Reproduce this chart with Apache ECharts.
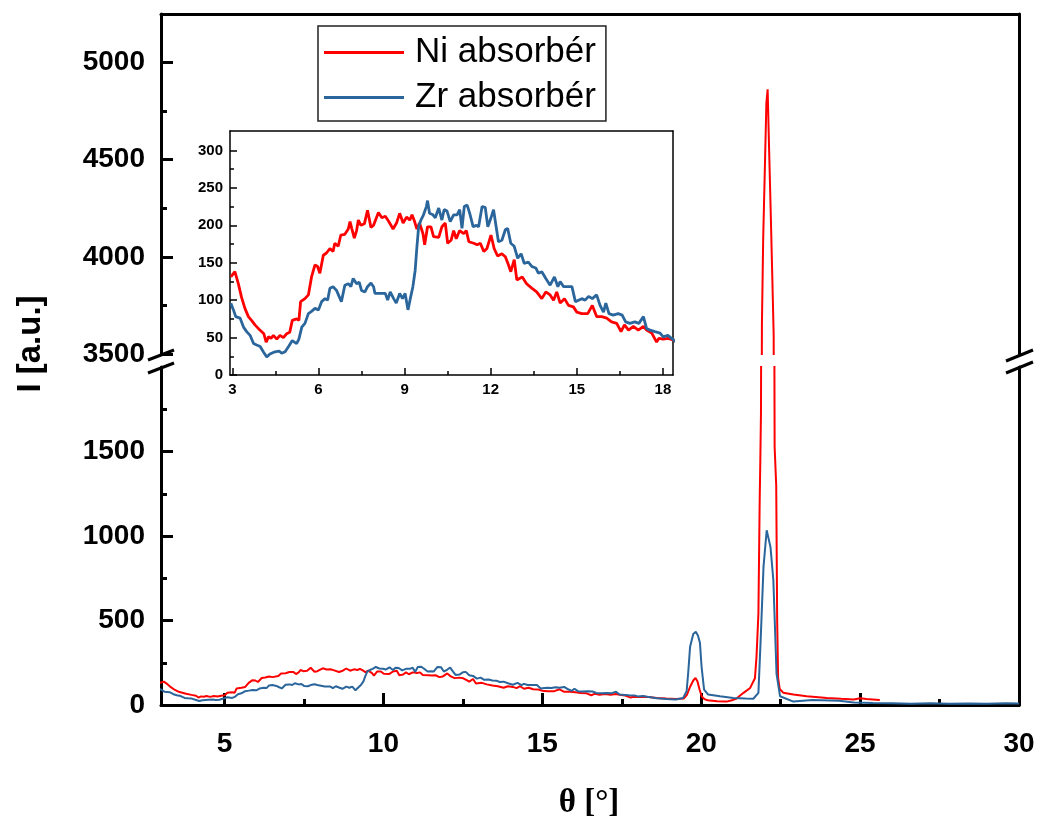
<!DOCTYPE html>
<html>
<head>
<meta charset="utf-8">
<script src="https://cdn.jsdelivr.net/npm/echarts@6/dist/echarts.min.js"></script>
<style>
  html, body { margin: 0; padding: 0; background: #fff; }
  #show_picture { width: 1038px; height: 820px; }
</style>
</head>
<body>
<div id="show_picture"></div>
<script>
// Ni absorber (red) - theta [deg], intensity [a.u.]
const niTheta = [2.95, 3.09, 3.21, 3.32, 3.44, 3.56, 3.67, 3.79, 3.96, 4.02, 4.10, 4.18, 4.26, 4.35, 4.43, 4.55, 4.66, 4.78, 4.89, 5.00,
    5.09, 5.24, 5.32, 5.38, 5.53, 5.65, 5.76, 5.88, 5.97, 6.05, 6.17, 6.28, 6.40, 6.51, 6.57, 6.69, 6.78, 6.92, 7.04, 7.10,
    7.16, 7.25, 7.33, 7.39, 7.48, 7.60, 7.71, 7.83, 7.92, 8.09, 8.21, 8.33, 8.45, 8.60, 8.72, 8.83, 8.95, 9.07, 9.18, 9.26,
    9.35, 9.43, 9.52, 9.64, 9.70, 9.80, 9.92, 10.01, 10.19, 10.30, 10.42, 10.50, 10.62, 10.71, 10.80, 10.92, 11.06, 11.15, 11.24, 11.41,
    11.53, 11.64, 11.76, 11.87, 12.01, 12.12, 12.24, 12.39, 12.51, 12.62, 12.70, 12.82, 12.91, 13.10, 13.25, 13.43, 13.60, 13.78, 13.92, 14.07,
    14.19, 14.30, 14.42, 14.57, 14.71, 14.88, 15.00, 15.17, 15.38, 15.54, 15.69, 15.87, 16.04, 16.21, 16.39, 16.54, 16.66, 16.80, 16.97, 17.14,
    17.32, 17.43, 17.61, 17.78, 17.86, 18.01, 18.18, 18.35, 18.6, 18.9, 19.2, 19.45, 19.55, 19.65, 19.75, 19.82, 19.88, 19.95, 20.02, 20.10,
    20.20, 20.50, 20.80, 21.00, 21.10, 21.33, 21.54, 21.69, 21.74, 21.80, 21.84, 21.86, 21.88, 21.91, 21.95, 22.00, 22.05, 22.09, 22.13, 22.18,
    22.23, 22.28, 22.31, 22.36, 22.39, 22.42, 22.47, 22.58, 22.90, 23.32, 23.60, 23.95, 24.40, 24.80, 25.00, 25.20, 25.40, 25.62];
const niI = [131, 138, 122, 104, 89, 78, 73, 67, 60, 62, 55, 44, 51, 49, 53, 48, 53, 50, 55, 57,
    73, 75, 73, 98, 102, 107, 131, 147, 145, 136, 160, 163, 169, 165, 176, 172, 187, 188, 195, 205,
    196, 183, 193, 207, 200, 202, 220, 197, 200, 217, 210, 212, 205, 195, 203, 216, 203, 211, 207, 214,
    205, 195, 203, 189, 174, 198, 198, 185, 184, 198, 203, 176, 180, 193, 182, 193, 189, 193, 178, 176,
    174, 176, 165, 169, 187, 169, 159, 162, 158, 147, 138, 154, 127, 131, 122, 116, 111, 102, 111, 107,
    100, 111, 96, 102, 93, 91, 84, 82, 82, 93, 78, 78, 76, 71, 69, 58, 67, 60, 65, 60,
    65, 60, 56, 44, 49, 48, 49, 47, 42, 38, 36, 38, 60, 108, 145, 160, 140, 90, 49, 35,
    28, 22, 20, 30, 37, 72, 101, 158, 286, 543, 1213, 1450, 1723, 3649, 4095, 4438, 4790, 4862, 4593, 4276,
    3941, 3598, 1527, 1300, 500, 160, 95, 73, 62, 52, 48, 42, 37, 33, 40, 35, 33, 30];

// Zr absorber (blue)
const zrTheta = [2.95, 3.04, 3.12, 3.27, 3.39, 3.50, 3.62, 3.74, 3.85, 3.97, 4.08, 4.20, 4.31, 4.49, 4.63, 4.72, 4.84, 4.96, 5.09, 5.24,
    5.32, 5.42, 5.53, 5.65, 5.76, 5.88, 6.00, 6.11, 6.23, 6.32, 6.40, 6.51, 6.63, 6.72, 6.80, 6.92, 7.04, 7.13, 7.21, 7.33,
    7.42, 7.50, 7.62, 7.71, 7.83, 7.92, 7.97, 8.15, 8.33, 8.41, 8.50, 8.62, 8.71, 8.83, 8.93, 9.02, 9.12, 9.20, 9.29, 9.37,
    9.43, 9.49, 9.57, 9.66, 9.76, 9.80, 9.87, 9.99, 10.07, 10.19, 10.30, 10.38, 10.48, 10.59, 10.71, 10.83, 10.92, 11.00, 11.08, 11.18,
    11.27, 11.39, 11.50, 11.58, 11.70, 11.81, 11.90, 12.01, 12.10, 12.19, 12.27, 12.39, 12.51, 12.59, 12.70, 12.82, 12.94, 13.06, 13.17, 13.31,
    13.43, 13.57, 13.66, 13.78, 13.92, 14.07, 14.22, 14.34, 14.42, 14.54, 14.69, 14.83, 14.95, 15.06, 15.17, 15.29, 15.41, 15.54, 15.69, 15.81,
    15.93, 16.01, 16.12, 16.27, 16.44, 16.58, 16.70, 16.85, 17.02, 17.16, 17.32, 17.43, 17.55, 17.72, 17.90, 18.01, 18.17, 18.30, 18.6, 18.9,
    19.2, 19.43, 19.54, 19.59, 19.65, 19.75, 19.83, 19.90, 19.96, 20.01, 20.09, 20.22, 20.59, 21.01, 21.40, 21.64, 21.80, 21.87, 21.96, 22.06,
    22.11, 22.18, 22.27, 22.32, 22.37, 22.48, 22.90, 23.50, 24.34, 24.8, 25.4, 26.0, 26.6, 27.2, 27.8, 28.4, 29.0, 29.6, 30.0];
const zrI = [96, 87, 78, 76, 64, 58, 53, 42, 40, 38, 31, 24, 28, 31, 32, 29, 31, 38, 46, 42,
    48, 64, 69, 82, 85, 89, 87, 98, 102, 100, 116, 118, 113, 105, 98, 120, 122, 118, 129, 122,
    124, 113, 111, 118, 123, 118, 109, 109, 109, 100, 111, 102, 96, 109, 102, 109, 87, 102, 118, 140,
    171, 198, 207, 214, 225, 233, 216, 214, 210, 223, 207, 221, 219, 205, 214, 214, 221, 196, 225, 227,
    216, 198, 200, 198, 225, 224, 198, 210, 221, 198, 178, 180, 194, 196, 176, 172, 156, 162, 149, 151,
    145, 143, 136, 138, 129, 120, 131, 118, 125, 118, 118, 118, 98, 100, 102, 100, 105, 102, 107, 93,
    84, 96, 82, 80, 82, 80, 71, 69, 71, 69, 78, 62, 60, 58, 56, 51, 53, 49, 40, 35,
    32, 42, 81, 190, 345, 420, 433, 410, 367, 229, 91, 62, 52, 42, 38, 37, 72, 384, 817, 1034,
    1044, 934, 738, 463, 185, 52, 20, 30, 25, 15, 12, 10, 8, 10, 7, 9, 8, 10, 9];

// tick values
const mainXTicks = [5, 10, 15, 20, 25, 30];
const mainXMinor = [7.5, 12.5, 17.5, 22.5, 27.5];
const highYTicks = [3500, 4000, 4500, 5000];
const highYMinor = [3750, 4250, 4750];
const lowYTicks = [0, 500, 1000, 1500];
const lowYMinor = [250, 750, 1250, 1750];
const insetXTicks = [3, 6, 9, 12, 15, 18];
const insetXMinor = [4.5, 7.5, 10.5, 13.5, 16.5];
const insetYTicks = [0, 50, 100, 150, 200, 250, 300];
const insetYMinor = [25, 75, 125, 175, 225, 275];

const RED = '#ff0000';
const BLUE = '#2a659b';
const FONT = 'Liberation Sans, Arial, sans-serif';

function pairs(t, v) {
    return t.map((x, i) => [x, v[i]]);
}
const ni = pairs(niTheta, niI);
const zr = pairs(zrTheta, zrI);

function lineAxis(gridIndex, position, min, max, width) {
    return {
        type: 'value', gridIndex: gridIndex, position: position, min: min, max: max,
        axisLine: { show: true, onZero: false, lineStyle: { color: '#000', width: width } },
        axisTick: { show: false }, axisLabel: { show: false }, splitLine: { show: false }
    };
}

function tickAxis(gridIndex, position, min, max, ticks, len, width, showLine, labelFont, margin) {
    return {
        type: 'value', gridIndex: gridIndex, position: position, min: min, max: max,
        axisLine: { show: showLine, onZero: false, lineStyle: { color: '#000', width: width } },
        axisTick: { show: true, inside: true, length: len, customValues: ticks, lineStyle: { color: '#000', width: width } },
        axisLabel: labelFont ? {
            show: true, customValues: ticks, margin: margin, color: '#000',
            fontFamily: FONT, fontWeight: 'bold', fontSize: labelFont,
            formatter: v => String(v)
        } : { show: false },
        splitLine: { show: false }
    };
}

let myChart = echarts.init(document.getElementById('show_picture'));

let option = {
    animation: false,
    backgroundColor: '#fff',
    grid: [
        { left: 161, top: 14, width: 858, height: 340 },
        { left: 161, top: 367, width: 858, height: 338 },
        { left: 230, top: 131, width: 443, height: 244 }
    ],
    xAxis: [
        lineAxis(0, 'top', 3, 30, 3),
        tickAxis(1, 'bottom', 3, 30, mainXTicks, 12, 3, true, 28, 25),
        tickAxis(1, 'bottom', 3, 30, mainXMinor, 6, 3, false),
        tickAxis(2, 'bottom', 2.92, 18.35, insetXTicks, 7, 1.5, true, 15, 7),
        tickAxis(2, 'bottom', 2.92, 18.35, insetXMinor, 4, 1.5, false),
        lineAxis(2, 'top', 2.92, 18.35, 1.5)
    ],
    yAxis: [
        tickAxis(0, 'left', 3500, 5250, highYTicks, 12, 3, true, 28, 16),
        tickAxis(0, 'left', 3500, 5250, highYMinor, 6, 3, false),
        lineAxis(0, 'right', 3500, 5250, 3),
        tickAxis(1, 'left', 0, 2000, lowYTicks, 12, 3, true, 28, 16),
        tickAxis(1, 'left', 0, 2000, lowYMinor, 6, 3, false),
        lineAxis(1, 'right', 0, 2000, 3),
        tickAxis(2, 'left', 0, 326, insetYTicks, 7, 1.5, true, 15, 7),
        tickAxis(2, 'left', 0, 326, insetYMinor, 4, 1.5, false),
        lineAxis(2, 'right', 0, 326, 1.5)
    ],
    legend: {
        data: ['Ni absorbér', 'Zr absorbér'],
        orient: 'vertical',
        left: 318,
        top: 26,
        padding: [9, 10, 6, 6],
        icon: 'rect',
        itemWidth: 80,
        itemHeight: 3,
        itemGap: 10,
        backgroundColor: '#fff',
        borderColor: '#222',
        borderWidth: 1.5,
        borderRadius: 0,
        textStyle: { fontFamily: FONT, fontSize: 35, color: '#000', padding: [0, 0, 0, 6] }
    },
    graphic: [
        {
            type: 'text', x: 31, y: 344, rotation: Math.PI / 2,
            style: {
                text: 'I [a.u.]', fill: '#000', font: 'bold 33px ' + FONT,
                textAlign: 'center', textVerticalAlign: 'middle', align: 'center', verticalAlign: 'middle'
            }
        },
        {
            type: 'text', x: 589, y: 803,
            style: {
                text: 'θ [°]', fill: '#000', font: 'bold 33px Liberation Serif, Times New Roman, serif',
                textAlign: 'center', textVerticalAlign: 'middle', align: 'center', verticalAlign: 'middle'
            }
        },
        { type: 'line', shape: { x1: 148, y1: 360, x2: 174, y2: 350 }, style: { stroke: '#000', lineWidth: 3 } },
        { type: 'line', shape: { x1: 148, y1: 373, x2: 174, y2: 363 }, style: { stroke: '#000', lineWidth: 3 } },
        { type: 'line', shape: { x1: 1006, y1: 361, x2: 1033, y2: 350 }, style: { stroke: '#000', lineWidth: 3 } },
        { type: 'line', shape: { x1: 1006, y1: 373, x2: 1033, y2: 362 }, style: { stroke: '#000', lineWidth: 3 } }
    ],
    series: [
        { name: 'Ni absorbér', type: 'line', xAxisIndex: 0, yAxisIndex: 0, data: ni, symbol: 'none', clip: true,
          itemStyle: { color: RED }, lineStyle: { color: RED, width: 2 } },
        { name: 'Zr absorbér', type: 'line', xAxisIndex: 0, yAxisIndex: 0, data: zr, symbol: 'none', clip: true,
          itemStyle: { color: BLUE }, lineStyle: { color: BLUE, width: 2 } },
        { name: 'Ni absorbér', type: 'line', xAxisIndex: 1, yAxisIndex: 3, data: ni, symbol: 'none', clip: true,
          itemStyle: { color: RED }, lineStyle: { color: RED, width: 2 } },
        { name: 'Zr absorbér', type: 'line', xAxisIndex: 1, yAxisIndex: 3, data: zr, symbol: 'none', clip: true,
          itemStyle: { color: BLUE }, lineStyle: { color: BLUE, width: 2 } },
        { name: 'Ni absorbér', type: 'line', xAxisIndex: 3, yAxisIndex: 6, data: ni, symbol: 'none', clip: true,
          itemStyle: { color: RED }, lineStyle: { color: RED, width: 2.8 } },
        { name: 'Zr absorbér', type: 'line', xAxisIndex: 3, yAxisIndex: 6, data: zr, symbol: 'none', clip: true,
          itemStyle: { color: BLUE }, lineStyle: { color: BLUE, width: 2.8 } }
    ]
};

option && myChart.setOption(option);
</script>
</body>
</html>
